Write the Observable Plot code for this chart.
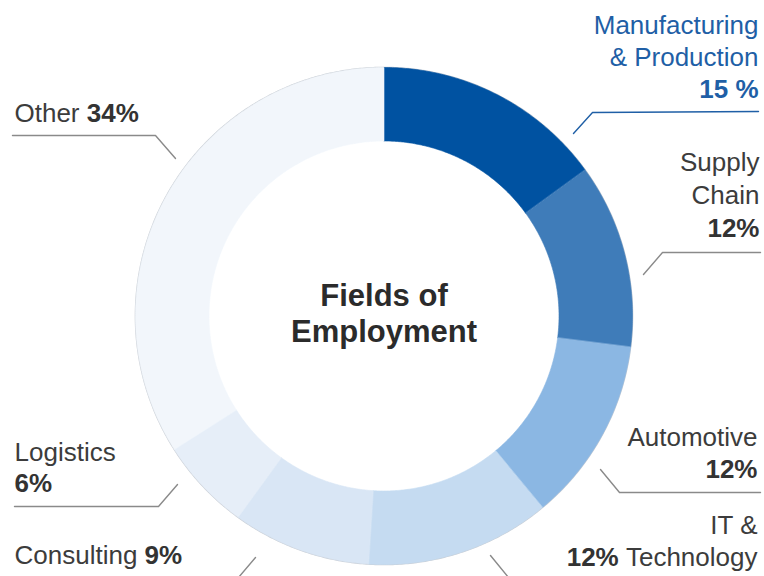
<!DOCTYPE html>
<html><head><meta charset="utf-8">
<script src="https://cdn.jsdelivr.net/npm/d3@7"></script>
<script src="https://cdn.jsdelivr.net/npm/@observablehq/plot@0.6"></script>
<style>body{margin:0;background:#fff;} #chart svg{display:block;}</style>
</head><body><div id="chart"></div>
<script>
// ---- data ----
const fields = ["Manufacturing & Production", "Supply Chain", "Automotive", "IT & Technology", "Consulting", "Logistics", "Other"];
const shares = [15, 12, 12, 12, 9, 6, 34];
const pctLabels = ["15 %", "12%", "12%", "12%", "9%", "6%", "34%"];
const nameLines = [["Manufacturing", "& Production"], ["Supply", "Chain"], ["Automotive"], ["IT &", "Technology"], ["Consulting"], ["Logistics"], ["Other"]];
const colors = ["#0052a1", "#3f7cb9", "#8bb7e3", "#c5dbf1", "#d9e6f5", "#e6eef8", "#f2f6fb"];
const title = ["Fields of", "Employment"];

// ---- layout ----
const W = 764, H = 576;
const C = {x: 383.5, y: 315.5}, rOuter = 248.5, rInner = 175;
const FONT = "'Liberation Sans', Arial, Helvetica, sans-serif";
const FS = 26;
const labelLayout = [
  {anchor: "end", x: 758, y0: 33, lh: 32, pct: "below", color: "#1f5fa6"},
  {anchor: "end", x: 759, y0: 170, lh: 33, pct: "below", color: "#3c3c3c"},
  {anchor: "end", x: 757, y0: 445, lh: 32, pct: "below", color: "#3c3c3c"},
  {anchor: "end", x: 757, y0: 533, lh: 32, pct: "before", color: "#3c3c3c"},
  {anchor: "start", x: 14, y0: 563, lh: 32, pct: "after", color: "#3c3c3c"},
  {anchor: "start", x: 14, y0: 460, lh: 31, pct: "below", color: "#3c3c3c"},
  {anchor: "start", x: 14, y0: 121, lh: 32, pct: "after", color: "#3c3c3c"}
];
const leaders = [
  {color: "#1f5fa6", pts: [[573,133],[592,112],[758,111]]},
  {color: "#8a8a8a", pts: [[643,274],[662,252],[760,252]]},
  {color: "#8a8a8a", pts: [[600,469],[619,492],[760,492]]},
  {color: "#8a8a8a", pts: [[490,555],[508,577]]},
  {color: "#8a8a8a", pts: [[255,557],[238,577]]},
  {color: "#8a8a8a", pts: [[177,484],[158,506],[14,506]]},
  {color: "#8a8a8a", pts: [[12,135],[155,135],[175,158]]}
];

// ---- geometry from data ----
const arcs = d3.pie().sort(null).value(d => d)(shares);
const ring = [];
arcs.forEach((p, i) => {
  const a0 = p.startAngle, a1 = p.endAngle;
  const n = Math.max(2, Math.ceil((a1 - a0) / (Math.PI / 360)));
  for (let k = 0; k <= n; k++) {
    const a = a0 + (a1 - a0) * k / n;
    ring.push({field: fields[i], x: C.x + rOuter * Math.sin(a), y: C.y - rOuter * Math.cos(a)});
  }
  for (let k = n; k >= 0; k--) {
    const a = a0 + (a1 - a0) * k / n;
    ring.push({field: fields[i], x: C.x + rInner * Math.sin(a), y: C.y - rInner * Math.cos(a)});
  }
});
const outline = d3.range(0, 721).map(k => {
  const a = k / 720 * 2 * Math.PI;
  return {x: C.x + rOuter * Math.sin(a), y: C.y - rOuter * Math.cos(a)};
});

// ---- text rows ----
const ctx = document.createElement("canvas").getContext("2d");
function tw(s, bold) { ctx.font = `${bold ? "bold " : ""}${FS}px ${FONT}`; return ctx.measureText(s).width; }
const texts = [];
fields.forEach((f, i) => {
  const L = labelLayout[i], lines = nameLines[i], pct = pctLabels[i];
  lines.forEach((s, j) => {
    const y = L.y0 + j * L.lh;
    const last = j === lines.length - 1;
    texts.push({text: s, x: L.x, y, anchor: L.anchor, bold: false, color: L.color});
    if (last && L.pct === "after") {
      texts.push({text: pct, x: L.x + tw(s + " ", false), y, anchor: "start", bold: true, color: L.color === "#3c3c3c" ? "#333" : L.color});
    }
    if (last && L.pct === "before") {
      texts.push({text: pct, x: L.x - tw(" " + s, false), y, anchor: "end", bold: true, color: "#333"});
    }
  });
  if (L.pct === "below") {
    texts.push({text: pct, x: L.x, y: L.y0 + lines.length * L.lh, anchor: L.anchor, bold: true, color: L.color === "#3c3c3c" ? "#333" : L.color});
  }
});
const leaderPts = leaders.flatMap((l, i) => l.pts.map(([x, y]) => ({i, x, y, color: l.color})));
const titleRows = title.map((t, i) => ({text: t, x: C.x, y: C.y - 10 + i * 36}));

const mk = (rows, opts) => Plot.text(rows, {x: "x", y: "y", text: "text", lineAnchor: "bottom", fontFamily: FONT, ...opts});

const chart = Plot.plot({
  width: W, height: H, margin: 0,
  style: {background: "#fff"},
  x: {domain: [0, W], range: [0, W], axis: null},
  y: {domain: [0, H], range: [0, H], axis: null},
  color: {domain: fields, range: colors},
  marks: [
    Plot.line(outline, {x: "x", y: "y", stroke: "#c9ced5", strokeWidth: 1.6, curve: "linear-closed"}),
    Plot.line(ring, {x: "x", y: "y", z: "field", fill: "field", stroke: "field", strokeWidth: 0.6, curve: "linear-closed"}),
    Plot.line(leaderPts, {x: "x", y: "y", z: "i", stroke: d => d.color, strokeWidth: 1.4}),
    mk(texts.filter(d => !d.bold && d.anchor === "end"), {textAnchor: "end", fill: d => d.color, fontSize: FS}),
    mk(texts.filter(d => !d.bold && d.anchor === "start"), {textAnchor: "start", fill: d => d.color, fontSize: FS}),
    mk(texts.filter(d => d.bold && d.anchor === "end"), {textAnchor: "end", fill: d => d.color, fontSize: FS, fontWeight: "bold"}),
    mk(texts.filter(d => d.bold && d.anchor === "start"), {textAnchor: "start", fill: d => d.color, fontSize: FS, fontWeight: "bold"}),
    mk(titleRows, {textAnchor: "middle", fill: "#2b2b2b", fontSize: 31, fontWeight: "bold"})
  ]
});
document.getElementById("chart").appendChild(chart);
</script>
</body></html>
